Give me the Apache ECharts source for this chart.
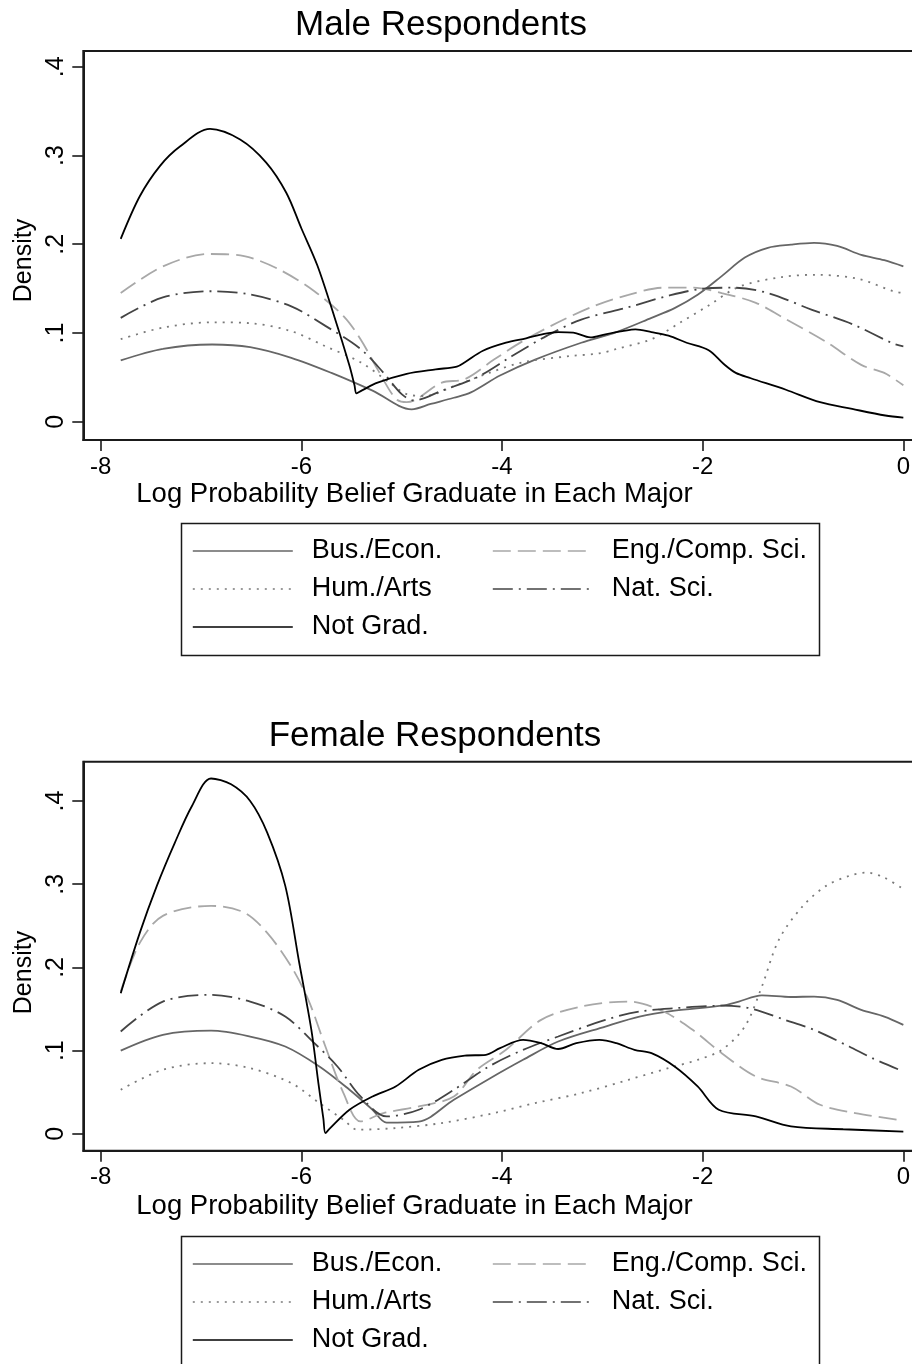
<!DOCTYPE html>
<html>
<head>
<meta charset="utf-8">
<script src="https://cdn.jsdelivr.net/npm/echarts@6/dist/echarts.min.js"></script>
<style>
html,body{margin:0;padding:0;background:#fff;overflow:hidden;width:912px;height:1364px;}
#chart{width:940px;height:1364px;}
</style>
</head>
<body>
<div id="chart"></div>
<script>
// ---------- DATA ----------
const seriesNames = ['Bus./Econ.', 'Eng./Comp. Sci.', 'Hum./Arts', 'Nat. Sci.', 'Not Grad.'];
const panelTitles = ['Male Respondents', 'Female Respondents'];
const xTicks = [-8, -6, -4, -2, 0];
const yTicks = [0, 0.1, 0.2, 0.3, 0.4];
const xTitle = 'Log Probability Belief Graduate in Each Major';
const yTitle = 'Density';

// Male panel: [log probability, density]
const maleBus = [[-7.80,0.069],[-7.38,0.082],[-6.89,0.087],[-6.51,0.084],[-6.10,0.072],[-5.70,0.055],[-5.29,0.035],[-4.90,0.014],[-4.71,0.020],[-4.48,0.027],[-4.31,0.033],[-4.02,0.052],[-3.67,0.070],[-3.21,0.089],[-2.86,0.101],[-2.51,0.117],[-2.28,0.128],[-2.05,0.143],[-1.81,0.164],[-1.58,0.185],[-1.35,0.196],[-1.12,0.1995],[-0.89,0.2015],[-0.66,0.198],[-0.42,0.188],[-0.19,0.182],[0,0.175]];
const maleEng = [[-7.80,0.145],[-7.38,0.175],[-6.92,0.189],[-6.57,0.1865],[-6.22,0.1715],[-5.87,0.147],[-5.58,0.119],[-5.41,0.093],[-5.24,0.059],[-5.06,0.026],[-4.95,0.022],[-4.60,0.044],[-4.37,0.048],[-4.08,0.070],[-3.79,0.091],[-3.44,0.112],[-3.09,0.130],[-2.74,0.143],[-2.39,0.151],[-2.10,0.151],[-1.81,0.145],[-1.47,0.134],[-1.21,0.118],[-0.77,0.090],[-0.42,0.064],[-0.19,0.055],[0,0.041]];
const maleHum = [[-7.80,0.093],[-7.38,0.106],[-6.89,0.112],[-6.51,0.111],[-6.10,0.102],[-5.76,0.085],[-5.41,0.067],[-5.12,0.044],[-4.95,0.031],[-4.77,0.029],[-4.48,0.040],[-4.13,0.055],[-3.79,0.067],[-3.32,0.074],[-3.03,0.077],[-2.86,0.082],[-2.51,0.093],[-2.22,0.112],[-1.94,0.131],[-1.64,0.152],[-1.21,0.163],[-0.88,0.1655],[-0.45,0.161],[-0.10,0.147],[0,0.145]];
const maleNat = [[-7.80,0.117],[-7.38,0.140],[-6.89,0.147],[-6.51,0.1434],[-6.10,0.130],[-5.76,0.108],[-5.41,0.082],[-5.18,0.055],[-5.00,0.031],[-4.88,0.024],[-4.60,0.035],[-4.25,0.050],[-3.90,0.074],[-3.55,0.097],[-3.21,0.115],[-2.74,0.129],[-2.34,0.142],[-1.99,0.150],[-1.70,0.151],[-1.35,0.145],[-0.91,0.126],[-0.51,0.110],[-0.10,0.088],[0,0.085]];
const maleNot = [[-7.80,0.206],[-7.61,0.254],[-7.41,0.288],[-7.21,0.310],[-6.91,0.330],[-6.61,0.318],[-6.35,0.292],[-6.15,0.258],[-6.00,0.218],[-5.84,0.176],[-5.67,0.118],[-5.52,0.063],[-5.47,0.041],[-5.45,0.032],[-5.40,0.035],[-5.24,0.044],[-4.95,0.054],[-4.66,0.059],[-4.45,0.062],[-4.37,0.067],[-4.19,0.080],[-3.96,0.089],[-3.76,0.094],[-3.58,0.099],[-3.44,0.101],[-3.29,0.1004],[-3.12,0.095],[-2.97,0.0985],[-2.80,0.102],[-2.67,0.104],[-2.51,0.101],[-2.34,0.097],[-2.16,0.089],[-1.94,0.0805],[-1.79,0.065],[-1.67,0.055],[-1.52,0.049],[-1.17,0.036],[-0.83,0.022],[-0.51,0.0144],[-0.18,0.007],[0,0.0045]];

// Female panel
const femaleBus = [[-7.80,0.100],[-7.38,0.119],[-6.90,0.124],[-6.51,0.117],[-6.16,0.105],[-5.82,0.081],[-5.52,0.053],[-5.29,0.029],[-5.15,0.0136],[-4.83,0.0148],[-4.48,0.041],[-4.13,0.066],[-3.79,0.089],[-3.44,0.111],[-2.97,0.129],[-2.63,0.141],[-2.28,0.148],[-1.81,0.154],[-1.64,0.159],[-1.41,0.1665],[-1.12,0.1645],[-0.89,0.165],[-0.66,0.161],[-0.42,0.149],[-0.19,0.141],[0,0.131]];
const femaleEng = [[-7.80,0.171],[-7.61,0.2295],[-7.38,0.262],[-6.90,0.274],[-6.57,0.266],[-6.34,0.2415],[-6.10,0.201],[-5.93,0.161],[-5.76,0.105],[-5.58,0.049],[-5.41,0.015],[-5.18,0.025],[-4.83,0.033],[-4.48,0.045],[-4.25,0.077],[-3.96,0.101],[-3.61,0.137],[-3.21,0.153],[-2.74,0.159],[-2.39,0.147],[-2.10,0.125],[-1.81,0.097],[-1.47,0.069],[-1.12,0.057],[-0.83,0.035],[-0.48,0.025],[0,0.016]];
const femaleHum = [[-7.80,0.053],[-7.38,0.077],[-6.90,0.085],[-6.51,0.079],[-6.10,0.061],[-5.82,0.037],[-5.58,0.017],[-5.44,0.005],[-5.06,0.007],[-4.60,0.013],[-4.08,0.025],[-3.67,0.037],[-3.21,0.049],[-2.74,0.065],[-2.34,0.079],[-2.05,0.089],[-1.81,0.101],[-1.58,0.129],[-1.41,0.177],[-1.24,0.2335],[-1.00,0.274],[-0.77,0.298],[-0.54,0.310],[-0.37,0.314],[-0.19,0.308],[0,0.294]];
const femaleNat = [[-7.80,0.123],[-7.38,0.159],[-6.90,0.167],[-6.51,0.159],[-6.16,0.141],[-5.87,0.109],[-5.64,0.081],[-5.41,0.045],[-5.15,0.021],[-4.83,0.029],[-4.48,0.053],[-4.13,0.081],[-3.79,0.101],[-3.44,0.117],[-2.97,0.137],[-2.63,0.147],[-2.28,0.151],[-1.81,0.154],[-1.53,0.151],[-1.18,0.137],[-0.89,0.125],[-0.54,0.105],[-0.31,0.091],[0,0.075]];
const femaleNot = [[-7.80,0.169],[-7.61,0.2415],[-7.44,0.298],[-7.26,0.350],[-7.09,0.394],[-6.90,0.427],[-6.70,0.420],[-6.51,0.400],[-6.34,0.362],[-6.16,0.298],[-6.02,0.205],[-5.90,0.125],[-5.83,0.061],[-5.78,0.018],[-5.76,0.001],[-5.72,0.006],[-5.52,0.029],[-5.29,0.045],[-5.06,0.057],[-4.83,0.077],[-4.60,0.089],[-4.37,0.094],[-4.16,0.095],[-4.02,0.103],[-3.79,0.113],[-3.61,0.109],[-3.44,0.102],[-3.26,0.109],[-3.03,0.113],[-2.86,0.109],[-2.68,0.101],[-2.51,0.097],[-2.28,0.081],[-2.05,0.057],[-1.84,0.029],[-1.47,0.021],[-1.12,0.009],[-0.60,0.0056],[0,0.0028]];

// ---------- STYLE ----------
const FONT = "'Liberation Sans', Arial, Helvetica, sans-serif";
const styles = {
  'Bus./Econ.':      {color:'#666666', type:'solid'},
  'Eng./Comp. Sci.': {color:'#a8a8a8', type:[18,7]},
  'Hum./Arts':       {color:'#7a7a7a', type:[2,6]},
  'Nat. Sci.':       {color:'#444444', type:[20,6,2,6]},
  'Not Grad.':       {color:'#000000', type:'solid'}
};
const panels = [
  {data:[maleBus, maleEng, maleHum, maleNat, maleNot], top:51, yMin:-0.0206, yMax:0.4177, off:0},
  {data:[femaleBus, femaleEng, femaleHum, femaleNat, femaleNot], top:761.7, yMin:-0.0202, yMax:0.4472, off:713}
];
const gridLeft = 83.3, gridWidth = 837.4, gridHeight = 389;
const xMin = -8.173, xMax = 0.173;

const grids = [], xAxes = [], yAxes = [], series = [], legends = [], graphics = [];
const fmtY = v => v === 0 ? '0' : String(+v.toFixed(1)).replace(/^0\./, '.');

panels.forEach((p, i) => {
  grids.push({left:gridLeft, top:p.top, width:gridWidth, height:gridHeight, show:true,
    borderColor:'#1a1a1a', borderWidth:2, backgroundColor:'transparent', containLabel:false});
  xAxes.push({type:'value', gridIndex:i, min:xMin, max:xMax,
    axisLine:{show:true, onZero:false, lineStyle:{color:'#1a1a1a', width:2}},
    axisTick:{show:true, length:11, inside:false, customValues:xTicks, lineStyle:{color:'#1a1a1a', width:1.6}},
    axisLabel:{show:true, customValues:xTicks, margin:15, color:'#000', fontSize:24, fontFamily:FONT,
      formatter: v => String(Math.round(v))},
    splitLine:{show:false}});
  yAxes.push({type:'value', gridIndex:i, min:p.yMin, max:p.yMax,
    axisLine:{show:true, onZero:false, lineStyle:{color:'#1a1a1a', width:2}},
    axisTick:{show:true, length:11, inside:false, customValues:yTicks, lineStyle:{color:'#1a1a1a', width:1.6}},
    axisLabel:{show:true, customValues:yTicks, rotate:90, margin:15, color:'#000', fontSize:25, fontFamily:FONT,
      formatter: fmtY},
    splitLine:{show:false}});
  seriesNames.forEach((name, k) => {
    const st = styles[name];
    series.push({type:'line', name, xAxisIndex:i, yAxisIndex:i, data:p.data[k],
      symbol:'none', showSymbol:false, smooth:0.32, clip:true, silent:true,
      lineStyle:{color:st.color, width:1.8, type:st.type},
      itemStyle:{color:st.color}, emphasis:{disabled:true}});
  });
  const legCommon = {orient:'vertical', itemWidth:100, itemHeight:14, itemGap:0, padding:0,
    selectedMode:false, itemStyle:{opacity:0}, lineStyle:{width:1.6},
    textStyle:{fontSize:27, fontFamily:FONT, color:'#000', lineHeight:28, padding:[0,0,10,14]}};
  legends.push(Object.assign({}, legCommon, {left:192, top:532 + p.off, data:['Bus./Econ.', 'Hum./Arts', 'Not Grad.']}));
  legends.push(Object.assign({}, legCommon, {left:492, top:532 + p.off, data:['Eng./Comp. Sci.', 'Nat. Sci.']}));

  const ts = (size) => ({fill:'#000', fontSize:size, fontFamily:FONT, align:'center', verticalAlign:'middle', textAlign:'center', textVerticalAlign:'middle'});
  graphics.push({type:'text', x: i === 0 ? 441 : 435, y: i === 0 ? 25 : 736, style:Object.assign({text:panelTitles[i]}, ts(35))});
  graphics.push({type:'text', x:414.5, y: i === 0 ? 494 : 1206, style:Object.assign({text:xTitle}, ts(27.5))});
  graphics.push({type:'text', x:24, y: i === 0 ? 260.5 : 972.5, rotation:Math.PI/2, style:Object.assign({text:yTitle}, ts(25))});
  graphics.push({type:'rect', shape:{x:181.5, y:523.5 + p.off, width:638, height:132},
    style:{fill:'none', stroke:'#1a1a1a', lineWidth:1.5}});
});

const chart = echarts.init(document.getElementById('chart'), null, {renderer:'canvas'});
chart.setOption({
  animation:false,
  backgroundColor:'#ffffff',
  grid:grids, xAxis:xAxes, yAxis:yAxes, series, legend:legends, graphic:graphics,
  tooltip:{show:false}
});
</script>
</body>
</html>
